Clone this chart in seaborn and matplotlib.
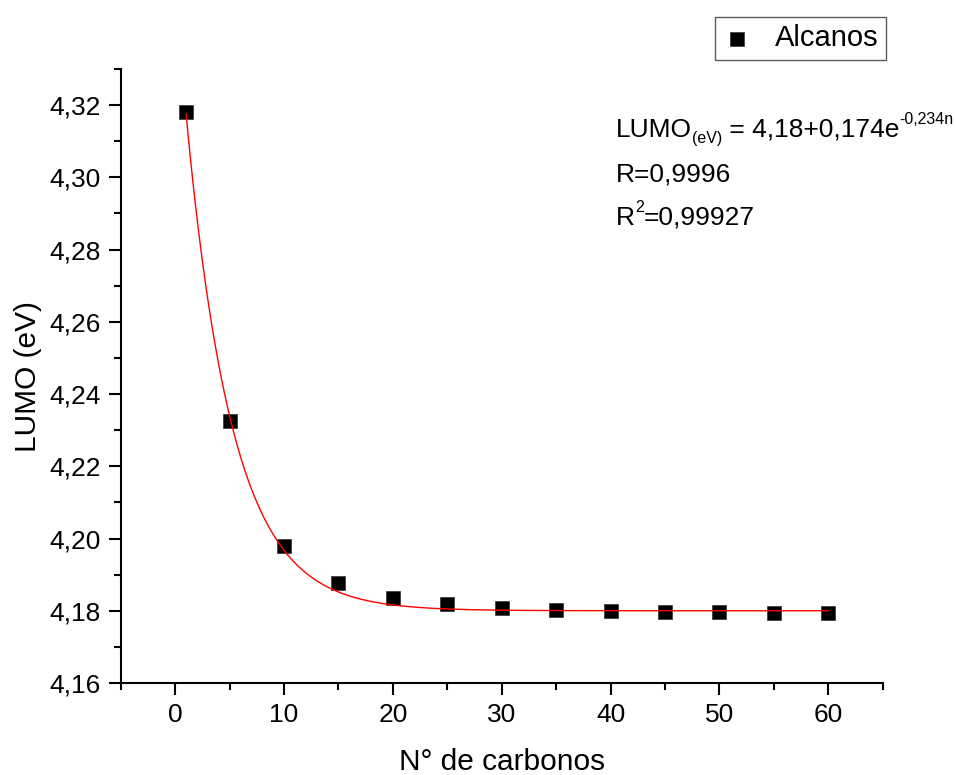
import numpy as np
import pandas as pd
import matplotlib
matplotlib.use("Agg")
import matplotlib.pyplot as plt
import seaborn as sns
from matplotlib.ticker import MultipleLocator, FuncFormatter

# ---- data ----
n_carbonos = [1, 5, 10, 15, 20, 25, 30, 35, 40, 45, 50, 55, 60]
lumo_ev = [4.3181, 4.2326, 4.1980, 4.1876, 4.1836, 4.1818, 4.1807,
           4.1802, 4.1799, 4.1797, 4.1796, 4.1795, 4.1795]
series_label = "Alcanos"

# fit parameters as printed on the chart: LUMO = y0 + A*exp(k*n)
fit_y0 = 4.18
fit_a = 0.174
fit_k = -0.234
fit_n_range = [1, 60]

x_label = "N° de carbonos"
y_label = "LUMO (eV)"
# equation pieces: (text, kind) kind: 'n' normal, 'sub', 'sup'
eq_line1 = [("LUMO", "n"), ("(eV)", "sub"), (" = 4,18+0,174e", "n"), ("-0,234n", "sup")]
eq_line2 = [("R=0,9996", "n")]
eq_line3 = [("R", "n"), ("2", "sup"), ("=0,99927", "n")]

sns.set_theme(style="ticks")
plt.rcParams["font.family"] = ["Liberation Sans", "DejaVu Sans"]
plt.rcParams["text.color"] = "black"
plt.rcParams["axes.labelcolor"] = "black"

fig = plt.figure(figsize=(9.56, 7.75), dpi=100)
ax = fig.add_axes([120.7 / 956, 1 - 683 / 775, (882.7 - 120.7) / 956, (683 - 69) / 775])

df = pd.DataFrame({"n": n_carbonos, "lumo": lumo_ev})
n_fit = np.linspace(fit_n_range[0], fit_n_range[1], 400)
df_fit = pd.DataFrame({"n": n_fit, "lumo": fit_y0 + fit_a * np.exp(fit_k * n_fit)})

sns.lineplot(data=df_fit, x="n", y="lumo", ax=ax, color="#ff0000", lw=1.0, zorder=3)
sns.scatterplot(data=df, x="n", y="lumo", ax=ax, marker="s", s=110, color="black",
                edgecolor="#333333", linewidth=0.5, label=series_label, zorder=2)

ax.set_xlim(-5, 65)
ax.set_ylim(4.16, 4.33)
ax.xaxis.set_major_locator(MultipleLocator(10))
ax.xaxis.set_minor_locator(MultipleLocator(5))
ax.yaxis.set_major_locator(MultipleLocator(0.02))
ax.yaxis.set_minor_locator(MultipleLocator(0.01))
ax.yaxis.set_major_formatter(FuncFormatter(lambda v, p: f"{v:.2f}".replace(".", ",")))
ax.xaxis.set_major_formatter(FuncFormatter(lambda v, p: f"{v:.0f}"))

for side in ("top", "right"):
    ax.spines[side].set_visible(False)
for side in ("left", "bottom"):
    ax.spines[side].set_linewidth(1.5)
    ax.spines[side].set_color("black")

ax.tick_params(which="major", direction="out", length=8.5, width=1.5, labelsize=19,
               pad=6, colors="black")
ax.tick_params(which="minor", direction="out", length=5, width=1.5, colors="black")

ax.set_xlabel(x_label, fontsize=21.5, labelpad=15)
ax.set_ylabel(y_label, fontsize=21.5, labelpad=5)

leg = ax.legend(loc="upper right", bbox_to_anchor=(886 / 956, 1 - 17 / 775),
                bbox_transform=fig.transFigure, borderaxespad=0, fontsize=21,
                frameon=True, fancybox=False, markerscale=1.0,
                handletextpad=0.8, borderpad=0.25, handlelength=1.0)
leg.get_frame().set_edgecolor("#333333")
leg.get_frame().set_linewidth(1.0)

# equation text drawn piecewise
main_fs = 19
small_fs = 11.5
renderer = fig.canvas.get_renderer()
x0 = 616
for pieces, yb in zip([eq_line1, eq_line2, eq_line3], [136.7, 181.7, 225]):
    xp = x0
    for txt, kind in pieces:
        if kind == "n":
            fs, dy = main_fs, 0
        elif kind == "sub":
            fs, dy = small_fs, 6
        else:
            fs, dy = small_fs, -13
        t = fig.text(xp / 956, 1 - (yb + dy) / 775, txt, fontsize=fs, ha="left",
                     va="baseline", color="black")
        bb = t.get_window_extent(renderer=renderer)
        xp += bb.width

fig.savefig("out.png", dpi=100)
